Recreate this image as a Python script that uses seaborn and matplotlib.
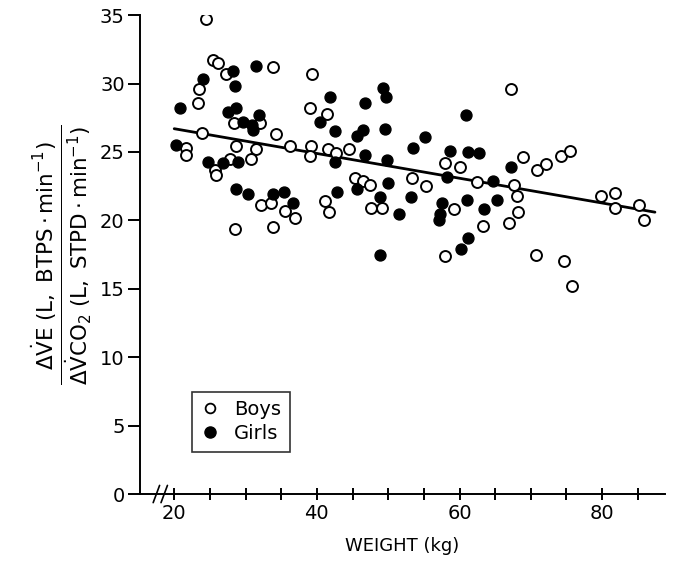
import pandas as pd
import seaborn as sns
import matplotlib.pyplot as plt
from matplotlib.lines import Line2D

# values (weight in kg, ratio)
boys_weight = [24.5, 25.5, 26.1, 27.2, 33.8, 39.3, 23.5, 23.3, 39.0, 41.4,
               28.4, 32.0, 23.9, 34.3, 21.7, 21.6, 28.7, 31.4, 36.2, 39.2,
               39.1, 41.5, 42.7, 44.5, 30.8, 27.8, 25.7, 25.9, 45.4, 32.1,
               33.6, 35.6, 37.0, 28.5, 33.8, 41.1, 41.7, 46.4, 47.5, 47.6,
               49.1, 53.4, 55.3, 57.9, 60.1, 59.2, 63.3, 57.9, 67.2, 68.9,
               70.9, 72.1, 74.2, 75.5, 62.4, 67.7, 68.0, 68.2, 67.0, 70.7,
               74.6, 75.8, 79.8, 81.8, 81.8, 85.1, 85.9]
boys_ratio = [34.7, 31.7, 31.5, 30.7, 31.2, 30.7, 29.6, 28.6, 28.2, 27.8,
              27.1, 27.1, 26.4, 26.3, 25.3, 24.8, 25.4, 25.2, 25.4, 25.4,
              24.7, 25.2, 24.9, 25.2, 24.5, 24.5, 23.7, 23.3, 23.1, 21.1,
              21.3, 20.7, 20.2, 19.4, 19.5, 21.4, 20.6, 22.9, 22.6, 20.9,
              20.9, 23.1, 22.5, 24.2, 23.9, 20.8, 19.6, 17.4, 29.6, 24.6,
              23.7, 24.1, 24.7, 25.1, 22.8, 22.6, 21.8, 20.6, 19.8, 17.5,
              17.0, 15.2, 21.8, 22.0, 20.9, 21.1, 20.0]

girls_weight = [28.2, 31.5, 24.1, 28.5, 20.8, 41.9, 28.6, 27.5, 31.9, 29.7,
                30.9, 31.0, 40.4, 42.6, 45.6, 20.2, 42.5, 24.7, 26.8, 28.9,
                28.7, 30.4, 33.8, 35.4, 36.7, 42.8, 45.6, 49.3, 49.7, 46.8,
                60.9, 46.4, 49.6, 55.2, 53.5, 46.8, 49.8, 58.6, 61.2, 62.8,
                58.2, 67.2, 64.7, 50.0, 48.8, 51.5, 53.2, 57.5, 57.3, 57.1,
                61.0, 63.4, 65.2, 61.2, 60.2, 48.9]
girls_ratio = [30.9, 31.3, 30.3, 29.8, 28.2, 29.0, 28.2, 27.9, 27.7, 27.2,
               27.0, 26.6, 27.2, 26.5, 26.2, 25.5, 24.3, 24.3, 24.2, 24.3,
               22.3, 21.9, 21.9, 22.1, 21.3, 22.1, 22.3, 29.7, 29.0, 28.6,
               27.7, 26.6, 26.7, 26.1, 25.3, 24.8, 24.4, 25.1, 25.0, 24.9,
               23.2, 23.9, 22.9, 22.7, 21.7, 20.5, 21.7, 21.3, 20.5, 20.0,
               21.5, 20.8, 21.5, 18.7, 17.9, 17.5]

# regression line as drawn in the figure
fit_weight = [20.0, 87.4]
fit_ratio = [26.7, 20.6]

boys = pd.DataFrame({"weight": boys_weight, "ratio": boys_ratio})
girls = pd.DataFrame({"weight": girls_weight, "ratio": girls_ratio})
fit = pd.DataFrame({"weight": fit_weight, "ratio": fit_ratio})

sns.set_theme(style="ticks")
plt.rcParams["font.family"] = ["DejaVu Sans"]
plt.rcParams["text.color"] = "black"

fig = plt.figure(figsize=(6.73, 5.61), dpi=100)
ax = fig.add_axes([0.208, 0.1194, 0.78, 0.8536])

sns.scatterplot(data=boys, x="weight", y="ratio", ax=ax, s=62,
                facecolor="white", edgecolor="black", linewidth=1.4, zorder=3)
sns.scatterplot(data=girls, x="weight", y="ratio", ax=ax, s=62,
                color="black", edgecolor="black", linewidth=1.0, zorder=3)
sns.lineplot(data=fit, x="weight", y="ratio", ax=ax, color="black",
             linewidth=2.0, zorder=2)

ax.set_xlim(15.2, 88.8)
ax.set_ylim(0, 35)
ax.set_xticks([20, 40, 60, 80])
ax.set_xticks(list(range(25, 90, 5)), minor=True)
ax.set_yticks(range(0, 36, 5))

for side in ["top", "right"]:
    ax.spines[side].set_visible(False)
for side in ["left", "bottom"]:
    ax.spines[side].set_linewidth(1.4)
    ax.spines[side].set_color("black")

ax.tick_params(axis="y", direction="out", length=9, width=1.4,
               labelsize=14, colors="black", pad=2)
ax.tick_params(axis="x", which="both", direction="inout", length=8,
               width=1.4, labelsize=14, colors="black", pad=3)

# axis break marks on the weight axis
trans = ax.get_xaxis_transform()
for xb in [17.5, 18.6]:
    ax.plot([xb - 0.45, xb + 0.45], [-0.018, 0.018], color="black",
            linewidth=1.2, transform=trans, clip_on=False)

ax.set_xlabel("WEIGHT (kg)", fontsize=13, labelpad=10, color="black")
ax.set_ylabel(r"$\frac{\Delta\dot{\mathrm{V}}\mathrm{E}\ (\mathrm{L,\ BTPS}\cdot\mathrm{min}^{-1})}"
              r"{\Delta\dot{\mathrm{V}}\mathrm{CO}_2\ (\mathrm{L,\ STPD}\cdot\mathrm{min}^{-1})}$",
              fontsize=22, labelpad=4, color="black")

handles = [
    Line2D([], [], marker="o", linestyle="", markersize=7,
           markerfacecolor="white", markeredgecolor="black", markeredgewidth=1.3),
    Line2D([], [], marker="o", linestyle="", markersize=8,
           markerfacecolor="black", markeredgecolor="black"),
]
leg = ax.legend(handles, ["Boys", "Girls"], loc="lower left",
                bbox_to_anchor=(0.099, 0.088), frameon=True, fancybox=False,
                borderaxespad=0, fontsize=14, handletextpad=0.7,
                borderpad=0.45, labelspacing=0.25, handlelength=1.0,
                labelcolor="black")
leg.get_frame().set_edgecolor("black")
leg.get_frame().set_linewidth(1.2)

fig.savefig("out.png", dpi=100)
